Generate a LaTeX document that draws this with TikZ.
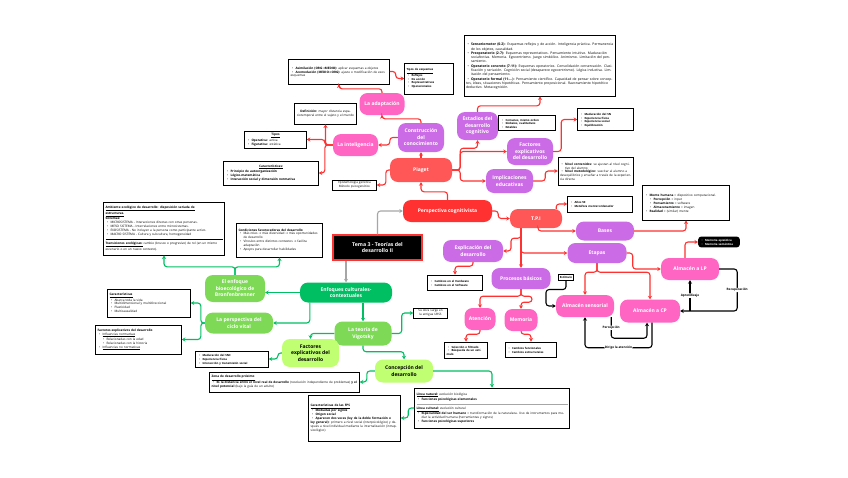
\documentclass[tikz,border=0pt]{standalone}
\usepackage{fontspec}
\setmainfont{Open Sans}
\newfontfamily\flechafont{DejaVu Sans}
\usetikzlibrary{arrows.meta}

\definecolor{rojo}{HTML}{FF3131}
\definecolor{coral}{HTML}{FF5757}
\definecolor{morado}{HTML}{CB6CE6}
\definecolor{rosa}{HTML}{FF66C4}
\definecolor{verde}{HTML}{00BF63}
\definecolor{verdeclaro}{HTML}{7ED957}
\definecolor{lima}{HTML}{C1FF72}
\definecolor{gris}{HTML}{A6A6A6}

\newcommand{\boxfont}{\fontsize{3.1}{3.9}\selectfont}
\newcommand{\smallboxfont}{\fontsize{2.8}{3.6}\selectfont}
\newcommand{\bigboxfont}{\fontsize{3.4}{4.3}\selectfont}
\newcommand{\flecha}{{\flechafont →}}
\newcommand{\bul}{\par\noindent\hangindent=5pt\hangafter=1\hspace*{1.5pt}\makebox[3.5pt][l]{\textbullet}}
\newcommand{\subbul}{\par\noindent\hangindent=9pt\hangafter=1\hspace*{5.5pt}\makebox[3.5pt][l]{\textbullet}}
\newcommand{\separador}[1]{\par\vspace{0.8pt}\noindent{\color{#1}\rule{\linewidth}{0.9pt}}\par\vspace{0.4pt}}

\begin{document}
\begin{tikzpicture}[x=1pt, y=-1pt,
  topic/.style={rounded corners=8pt, text=white, align=center, inner sep=1pt,
    font=\bfseries\fontsize{5}{6.6}\selectfont},
  infobox/.style={draw=black, line width=0.9pt, fill=white, inner sep=1.8pt,
    align=left, font=\boxfont},
  thinbox/.style={draw=black, line width=0.5pt, fill=white, inner sep=1.5pt,
    align=center, font=\fontsize{3}{3.8}\selectfont},
  rojoarr/.style={draw=rojo, line width=1.1pt, rounded corners=3pt, -{Stealth[length=3.5pt, width=4pt]}},
  verdearr/.style={draw=verde, line width=1.1pt, rounded corners=3pt, -{Stealth[length=3.5pt, width=4pt]}},
  grisarr/.style={draw=gris, line width=1.1pt, rounded corners=3pt, -{Stealth[length=3.5pt, width=4pt]}},
  negroarr/.style={draw=black, line width=1.1pt, rounded corners=3pt, -{Stealth[length=3.5pt, width=4pt]}},
  lbl/.style={fill=white, inner sep=0.6pt, font=\bfseries\fontsize{3.1}{3.5}\selectfont}]

    \useasboundingbox[fill=white] (0,0) rectangle (848,477);

    % Centre of the map
    \node[draw=rojo, line width=1.2pt, fill=black, text=white, align=center,
      font=\bfseries\fontsize{5.2}{6.6}\selectfont, minimum width=89pt, minimum height=25pt]
      (TEMA) at (377.5,247.5) {Tema 3 - Teorías del\\desarrollo II};

    % 1. Perspectiva cognitivista - Red
    \node[topic, fill=rojo, minimum width=89pt, minimum height=22pt] (PCOG) at (447.5,211) {Perspectiva cognitivista};
    \node[topic, fill=coral, minimum width=62pt, minimum height=24pt] (PIAG) at (421,170) {Piaget};
    \node[topic, fill=coral, minimum width=52pt, minimum height=19pt] (TPI) at (536,218.5) {T.P.I};

    % 2. Piaget - Purple / Pink
    \node[topic, fill=morado, minimum width=46pt, minimum height=29pt] (CONS) at (421,137.5) {Construcción\\del\\conocimiento};
    \node[topic, fill=rosa, minimum width=45pt, minimum height=22pt] (ADAP) at (382,104) {La adaptación};
    \node[topic, fill=rosa, minimum width=45pt, minimum height=22pt] (INTE) at (355.5,145) {La inteligencia};
    \node[topic, fill=morado, minimum width=41pt, minimum height=28pt] (ESTA) at (477.5,126) {Estadios del\\desarrollo\\cognitivo};
    \node[topic, fill=morado, minimum width=46pt, minimum height=27pt] (FACP) at (530,151.5) {Factores\\explicativos\\del desarrollo};
    \node[topic, fill=morado, minimum width=47pt, minimum height=24pt] (IMPL) at (509.5,181) {Implicaciones\\educativas};

    \node[infobox, text width=97pt, minimum height=25pt] (B_ASIM) at (339,71.5) {%
      \bul \textbf{Asimilación (ORG\flecha MEDIO):} aplicar esquemas a objetos
      \bul \textbf{Acomodación (MEDIO\flecha ORG):} ajuste o modificación de esos esquemas};
    \node[infobox, font=\smallboxfont, text width=45pt, minimum height=31pt] (B_TESQ) at (429,78.5) {%
      \underline{\textbf{Tipos de esquemas}}
      \bul \textbf{Reflejos}
      \bul \textbf{De acción}
      \bul \textbf{Representativos}
      \bul \textbf{Operacionales}};
    \node[infobox, align=center, text width=58pt, minimum height=21pt] (B_DEFI) at (325.5,113.5) {%
      \textbf{Definición:} mayor distancia espaciotemporal entre el sujeto y el mundo};
    \node[infobox, text width=58pt, minimum height=17pt] (B_TIPO) at (275.5,139.5) {%
      \centerline{\underline{\textbf{Tipos}}}
      \bul \textbf{Operativa:} activa
      \bul \textbf{Figurativa:} estática};
    \node[infobox, text width=91pt, minimum height=24pt] (B_CARI) at (271,173) {%
      \centerline{\underline{\textbf{Características:}}}
      \bul \textbf{Principio de autoorganización}
      \bul \textbf{Lógico-matemática}
      \bul \textbf{Interacción social y dimensión normativa}};
    \node[thinbox, text width=41pt] (B_EPIS) at (354.5,185) {Epistemología genética\\Método psicogenético};
    \node[infobox, font=\bigboxfont, text width=148pt, minimum height=61pt] (B_ESTA) at (540,65.5) {%
      \bul \textbf{Sensoriomotor (0-2):} Esquemas reflejos y de acción. Inteligencia práctica. Permanencia de los objetos, causalidad.
      \bul \textbf{Preoperatorio (2-7):} Esquemas representativos. Pensamiento intuitivo. Maduración sociafectiva. Memoria. Egocentrismo. Juego simbólico. Animismo. Limitación del pensamiento.
      \bul \textbf{Operatorio concreto (7-11):} Esquemas operatorios. Consolidación conservación. Clasificación y seriación. Cognición social (desaparece egocentrismo). Lógica inductiva. Limitación del pensamiento.
      \bul \textbf{Operatorio formal (11-...):} Pensamiento científico. Capacidad de pensar sobre conceptos, ideas, situaciones hipotéticas. Pensamiento proposicional. Razonamiento hipotético deductivo. Metacognición.};
    \node[infobox, font=\smallboxfont, text width=53pt, minimum height=15pt] (B_COMU) at (527,123) {%
      \bul \textbf{Comunes, mismo orden}
      \bul \textbf{Globales, cualitativos}
      \bul \textbf{Estables}};
    \node[infobox, font=\smallboxfont, text width=52pt, minimum height=22pt] (B_MADU) at (605.5,119.5) {%
      \bul \textbf{Maduración del SN}
      \bul \textbf{Experiencia física}
      \bul \textbf{Experiencia social}
      \bul \textbf{Equilibración}};
    \node[infobox, text width=72pt, minimum height=28pt] (B_NIVE) at (596,171) {%
      \bul \textbf{Nivel contenidos:} se ajustan al nivel cognitivo del alumno
      \bul \textbf{Nivel metodológico:} suscitar al alumno a desequilibrios y enseñar a través de la experiencia directa};

    % 3. T.P.I - Purple / Pink
    \node[topic, fill=morado, minimum width=58pt, minimum height=19pt] (BASE) at (605,231) {Bases};
    \node[topic, fill=morado, minimum width=59pt, minimum height=20pt] (ETAP) at (597,253) {Etapas};
    \node[topic, fill=morado, minimum width=60pt, minimum height=22pt] (EXPL) at (473,251) {Explicación del\\desarrollo};
    \node[topic, fill=morado, minimum width=59pt, minimum height=21pt] (PROC) at (521,278.5) {Procesos básicos};
    \node[topic, fill=rosa, minimum width=31pt, minimum height=22pt] (ATEN) at (480,319) {Atención};
    \node[topic, fill=rosa, minimum width=33pt, minimum height=22pt] (MEMO) at (521,320) {Memoria};
    \node[topic, fill=rosa, minimum width=58pt, minimum height=22pt] (ASEN) at (585,306) {Almacén sensorial};
    \node[topic, fill=rosa, minimum width=60pt, minimum height=23pt] (ACP) at (650,311) {Almacén a CP};
    \node[topic, fill=rosa, minimum width=58pt, minimum height=22pt] (ALP) at (690,269) {Almacén a LP};

    \node[infobox, font=\smallboxfont, text width=61pt, minimum height=16pt] (B_ANOS) at (600,204) {%
      \bul \textbf{Años 50}
      \bul \textbf{Metáfora mente=ordenador}};
    \node[infobox, text width=83pt, minimum height=35pt] (B_MENT) at (686,202.5) {%
      \bul \textbf{Mente humana} = dispositivo computacional.
      \subbul \textbf{Percepción} = input
      \subbul \textbf{Pensamiento} = software
      \subbul \textbf{Almacenamiento} = imagen
      \bul \textbf{Realidad} = (similar) mente};
    \node[fill=black, rounded corners=3pt, text=white, inner sep=1.8pt, align=left,
      font=\smallboxfont, text width=38pt] (B_MEMS) at (719,242) {%
      \bul \textbf{Memoria episódica}
      \bul \textbf{Memoria semántica}};
    \node[infobox, font=\smallboxfont, text width=51pt, minimum height=15pt] (B_HARD) at (455,282.5) {%
      \bul \textbf{Cambios en el Hardware}
      \bul \textbf{Cambios en el Software}};
    \node[infobox, font=\smallboxfont, text width=39pt, minimum height=16pt] (B_SELE) at (466,350) {%
      \bul \textbf{Selección o filtrado}
      \bul \textbf{Búsqueda de un estímulo}};
    \node[infobox, font=\smallboxfont, text width=48pt, minimum height=15pt] (B_CAMB) at (531,349.5) {%
      \bul \textbf{Cambios funcionales}
      \bul \textbf{Cambios estructurales}};
    \node[infobox, font=\bfseries\smallboxfont, inner sep=1.5pt] (B_ESTI) at (566,277.5) {Estímulo};

    % 4. Enfoques culturales-contextuales - Green
    \node[topic, fill=verde, minimum width=92pt, minimum height=20pt] (ENFO) at (346,292.5) {Enfoques culturales-\\contextuales};
    \node[topic, fill=verdeclaro, minimum width=60pt, minimum height=27pt] (BRON) at (235,288.5) {El enfoque\\bioecológico de\\Bronfenbrenner};
    \node[topic, fill=verdeclaro, minimum width=68pt, minimum height=21pt] (CICL) at (239,323) {La perspectiva del\\ciclo vital};
    \node[topic, fill=verdeclaro, minimum width=57pt, minimum height=24pt] (VIGO) at (363,333.5) {La teoría de\\Vigotsky};
    \node[topic, fill=lima, text=black, minimum width=57pt, minimum height=28pt] (FACV) at (310.5,353) {Factores\\explicativos del\\desarrollo};
    \node[topic, fill=lima, text=black, minimum width=58pt, minimum height=23pt] (CONC) at (404,371) {Concepción del\\desarrollo};

    \node[infobox, text width=117pt, minimum height=53pt] (B_AMBI) at (164,228.5) {%
      \underline{\textbf{Ambiente ecológico de desarrollo: disposición seriada de}}\\
      \underline{\textbf{estructuras.}}\par
      \noindent\textbf{Sistemas:}
      \bul MICROSISTEMA - Interacciones directas con otras personas.
      \bul MESO SISTEMA - Interrelaciones entre microsistemas.
      \bul EXOSISTEMA - No incluyen a la persona como participante activo.
      \bul MACRO SISTEMA - Cultura y subcultura, homogeneidad
      \separador{black}
      \noindent\underline{\textbf{Transiciones ecológicas:}} cambio (brusco o progresivo) de rol (en un mismo escenario o en un nuevo contexto).};
    \node[infobox, text width=82pt, minimum height=34pt] (B_COND) at (279.5,240) {%
      \textbf{Condiciones favorecedoras del desarrollo}
      \bul Más roles \flecha{} más diversidad \flecha{} más oportunidades de desarrollo
      \bul Vínculos entre distintos contextos \flecha{} facilita adaptación
      \bul Apoyos para desarrollar habilidades};
    \node[infobox, text width=79pt, minimum height=28pt] (B_CARC) at (149,303) {%
      \underline{\textbf{Características}}
      \bul Abarca toda la vida
      \bul Multidimensional y multidireccional
      \bul Plasticidad
      \bul Multicausalidad};
    \node[infobox, text width=82pt, minimum height=29pt] (B_FACC) at (138.5,339.5) {%
      \textbf{Factores explicativos del desarrollo}
      \bul \underline{Influencias normativas}
      \subbul Relacionadas con la edad
      \subbul Relacionadas con la historia
      \bul \underline{Influencias no normativas}};
    \node[infobox, font=\smallboxfont, text width=69pt, minimum height=16pt] (B_MADV) at (232,359) {%
      \bul \textbf{Maduración del SNC}
      \bul \textbf{Experiencia física}
      \bul \textbf{Interacción y transmisión social}};
    \node[thinbox, text width=31pt] (B_OBRA) at (430.5,313) {Su obra surge en la antigua URSS};
    \node[infobox, text width=146pt, minimum height=20pt] (B_ZONA) at (284.5,382) {%
      \underline{\textbf{Zona de desarrollo próximo}}
      \bul \textbf{Es la distancia entre el nivel real de desarrollo} (resolución independiente de problemas) \textbf{y el nivel potencial} (bajo la guía de un adulto)};
    \node[infobox, text width=88pt, minimum height=46pt] (B_FPS) at (354.5,418) {%
      \underline{\textbf{Características de las FPS}}
      \bul \textbf{Mediadas por signos}
      \bul \textbf{Origen social}
      \bul \textbf{Aparecen dos veces (ley de la doble formación o ley general):} primero a nivel social (interpsicológico) y después a nivel individual mediante la internalización (intrapsicológico)};
    \node[infobox, text width=151pt, minimum height=40pt] (B_LINE) at (492,408) {%
      \underline{\textbf{Línea natural:}} evolución biológica
      \bul \textbf{Funciones psicológicas elementales}
      \separador{gris}
      \noindent\underline{\textbf{Línea cultural:}} evolución cultural
      \bul \textbf{Especialidad del ser humano} = transformación de la naturaleza. Uso de instrumentos para mediar la actividad humana (herramientas y signos)
      \bul \textbf{Funciones psicológicas superiores}};

    % Grey connectors from the centre
    \draw[grisarr] (TEMA.north) |- (PCOG.west);
    \draw[grisarr] (TEMA.south -| ENFO.north) -- (ENFO.north);

    % Red connectors - Piaget
    \draw[rojoarr] (PCOG.north) -- ++(0,-8) -| (PIAG.south);
    \draw[rojoarr] (PIAG.north) -- (CONS.south);
    \draw[rojoarr] (PIAG.west) -- ++(-4,0) |- (B_EPIS.east);
    \draw[rojoarr] (CONS.north) -- ++(0,-4) -| (ADAP.south);
    \draw[rojoarr] (CONS.west) -- ++(-8,0) |- (INTE.east);
    \draw[rojoarr] (ADAP.north) -- ++(0,-4) -| (B_ASIM.south);
    \draw[rojoarr] (B_ASIM.east) -- ++(6,0) |- (B_TESQ.west);
    \draw[rojoarr] (INTE.west) -| (B_DEFI.south);
    \draw[rojoarr] (INTE.west) -- ++(-8,0) |- (B_TIPO.east);
    \draw[rojoarr] (INTE.west) -- ++(-8,0) |- (B_CARI.east);
    \draw[rojoarr] (PIAG.east) -- ++(8,0) |- ([yshift=-8pt]ESTA.south) -- (ESTA.south);
    \draw[rojoarr] (PIAG.east) -- ++(8,0) |- (FACP.west);
    \draw[rojoarr] (PIAG.east) -- ++(8,0) |- (IMPL.west);
    \draw[rojoarr] (ESTA.north) -- ++(0,-6) -| (B_ESTA.south);
    \draw[rojoarr] (FACP.east) -- ++(8,0) |- (B_MADU.west);
    \draw[rojoarr] (IMPL.east) -- ++(12,0) |- (B_NIVE.west);

    % Red connectors - T.P.I
    \draw[rojoarr] (PCOG.east) -- ++(6,0) |- (TPI.west);
    \draw[rojoarr] ([xshift=-6pt]TPI.north east) |- (B_ANOS.west);
    \draw[rojoarr] ([xshift=2pt]TPI.south) |- (BASE.west);
    \draw[rojoarr] ([xshift=-15pt]TPI.south) -- ++(0,10) -- ++(-10,0) |- (EXPL.east);
    \draw[rojoarr] ([xshift=-15pt]TPI.south) -- (PROC.north);
    \draw[rojoarr] ([xshift=-15pt]TPI.south) |- (ETAP.west);
    \draw[rojoarr] (BASE.east) -| (B_MENT.south);
    \draw[rojoarr] (ETAP.east) -- ++(6,0) |- (ALP.west);
    \draw[rojoarr] (ETAP.south) -- ++(0,9) -| (ASEN.north);
    \draw[rojoarr] (ETAP.south) -- ++(0,9) -| (ACP.north);
    \draw[rojoarr] ([xshift=-5pt]ALP.north) |- (B_MEMS.west);
    \draw[rojoarr] (EXPL.south) -- ++(0,4) -| (B_HARD.north);
    \draw[rojoarr] (PROC.south) -- ++(0,7) -| (ATEN.north);
    \draw[rojoarr] (PROC.south) -- ++(0,7) -- ++(11,0) -- ++(0,6) -| (MEMO.north);
    \draw[rojoarr] (ATEN.south) -- ++(0,4) -| (B_SELE.north);
    \draw[rojoarr] (MEMO.south) -- ++(0,3) -| (B_CAMB.north);

    % Black connectors - memory stores
    \draw[negroarr] (B_ESTI.south) -- ++(0,9) -- ++(-20,0) |- (ASEN.west);
    \draw[negroarr] ([xshift=-3pt]ASEN.south east) -- node[lbl] (L_PERC) {Percepción} ++(0,21) -| ([xshift=-3pt]ACP.south);
    \draw[negroarr] ([xshift=2pt]ACP.south) -- ++(0,25) -| node[lbl, pos=0.25] (L_DIRI) {Dirige la atención} (ASEN.south);
    \draw[negroarr] (ALP.east) -- ++(18,0) |- node[lbl, pos=0.25] (L_RECU) {Recuperación} (ACP.east);
    \draw[negroarr] (ALP.south |- ACP.east) -- node[lbl] (L_APRE) {Aprendizaje} (ALP.south);

    % Green connectors - Enfoques
    \draw[verdearr] (ENFO.west) -- (BRON.east |- ENFO.west);
    \draw[verdearr] ([xshift=10pt]ENFO.south west) |- (CICL.east);
    \draw[verdearr] (VIGO.north |- ENFO.south) -- (VIGO.north);
    \draw[verdearr] (BRON.north) -- ++(0,-8) -| (B_AMBI.south);
    \draw[verdearr] (BRON.north) -- ++(0,-8) -| (B_COND.south);
    \draw[verdearr] (CICL.west) -- ++(-4,0) |- (B_CARC.east);
    \draw[verdearr] (CICL.west) -- ++(-4,0) |- (B_FACC.east);
    \draw[verdearr] (VIGO.east) -- ++(10,0) |- (B_OBRA.west);
    \draw[verdearr] (VIGO.west) -| (FACV.north);
    \draw[verdearr] (VIGO.south) -- ++(0,6) -| (CONC.north);
    \draw[verdearr] (FACV.west) -- ++(-4,0) |- (B_MADV.east);
    \draw[verdearr] (CONC.east) -| (B_LINE.north);
    \draw[verdearr] (CONC.west) -- ++(-8,0) |- (B_ZONA.east);
    \draw[verdearr] (B_LINE.west) -- ++(-6,0) |- (B_FPS.east);

\end{tikzpicture}
\end{document}
